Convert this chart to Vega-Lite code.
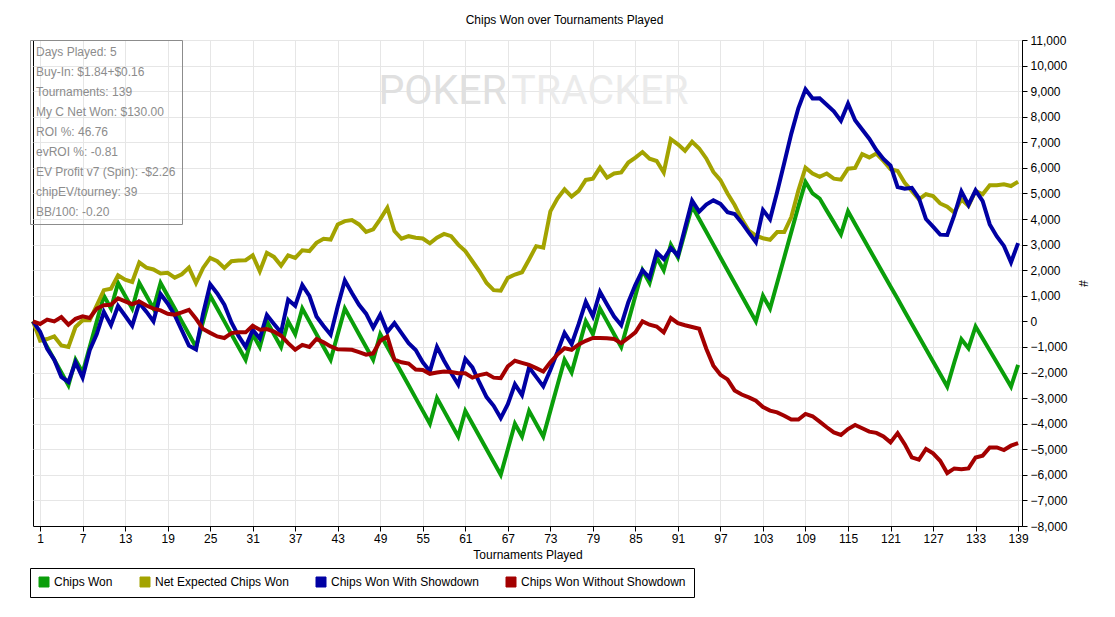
{
  "$schema": "https://vega.github.io/schema/vega-lite/v6.json",
  "width": 989,
  "height": 486,
  "autosize": {"type": "none"},
  "padding": {"left": 33, "top": 40, "right": 93, "bottom": 91},
  "background": "white",
  "title": {"text": "Chips Won over Tournaments Played", "fontSize": 12, "fontWeight": "normal", "font": "Liberation Sans", "color": "black", "offset": 7, "dx": 37},
  "config": {
    "font": "Liberation Sans",
    "view": {"stroke": "black", "strokeWidth": 1},
    "axis": {
      "labelFont": "Liberation Sans", "labelFontSize": 12, "labelColor": "black", "labelOverlap": false,
      "titleFont": "Liberation Sans", "titleFontSize": 12, "titleFontWeight": "normal", "titleColor": "black",
      "gridColor": "#e6e6e6", "domainColor": "black", "tickColor": "black", "tickSize": 5
    }
  },
  "datasets": {
    "chips": [
      {"t":0,"cw":0,"ev":0,"sd":0,"nsd":0},
      {"t":1,"cw":-500,"ev":-750,"sd":-400,"nsd":-100},
      {"t":2,"cw":-1000,"ev":-690,"sd":-1070,"nsd":70},
      {"t":3,"cw":-1500,"ev":-590,"sd":-1500,"nsd":0},
      {"t":4,"cw":-2000,"ev":-940,"sd":-2170,"nsd":170},
      {"t":5,"cw":-2500,"ev":-1000,"sd":-2370,"nsd":-130},
      {"t":6,"cw":-1500,"ev":-220,"sd":-1600,"nsd":100},
      {"t":7,"cw":-2000,"ev":40,"sd":-2200,"nsd":200},
      {"t":8,"cw":-1000,"ev":40,"sd":-1130,"nsd":130},
      {"t":9,"cw":0,"ev":630,"sd":-500,"nsd":500},
      {"t":10,"cw":1000,"ev":1220,"sd":370,"nsd":630},
      {"t":11,"cw":500,"ev":1280,"sd":-150,"nsd":650},
      {"t":12,"cw":1500,"ev":1800,"sd":600,"nsd":900},
      {"t":13,"cw":1000,"ev":1630,"sd":220,"nsd":780},
      {"t":14,"cw":500,"ev":1540,"sd":-170,"nsd":670},
      {"t":15,"cw":1500,"ev":2300,"sd":720,"nsd":780},
      {"t":16,"cw":1000,"ev":2100,"sd":380,"nsd":620},
      {"t":17,"cw":500,"ev":2030,"sd":0,"nsd":500},
      {"t":18,"cw":1500,"ev":1870,"sd":1070,"nsd":430},
      {"t":19,"cw":1000,"ev":1900,"sd":700,"nsd":300},
      {"t":20,"cw":500,"ev":1710,"sd":240,"nsd":260},
      {"t":21,"cw":0,"ev":1840,"sd":-350,"nsd":350},
      {"t":22,"cw":-500,"ev":2100,"sd":-950,"nsd":450},
      {"t":23,"cw":-1000,"ev":1500,"sd":-1100,"nsd":100},
      {"t":24,"cw":0,"ev":2090,"sd":300,"nsd":-300},
      {"t":25,"cw":1000,"ev":2480,"sd":1450,"nsd":-450},
      {"t":26,"cw":500,"ev":2350,"sd":1090,"nsd":-590},
      {"t":27,"cw":0,"ev":2090,"sd":650,"nsd":-650},
      {"t":28,"cw":-500,"ev":2350,"sd":-40,"nsd":-460},
      {"t":29,"cw":-1000,"ev":2380,"sd":-570,"nsd":-430},
      {"t":30,"cw":-1500,"ev":2390,"sd":-1000,"nsd":-430},
      {"t":31,"cw":-500,"ev":2580,"sd":-330,"nsd":-170},
      {"t":32,"cw":-1000,"ev":1960,"sd":-670,"nsd":-330},
      {"t":33,"cw":0,"ev":2680,"sd":250,"nsd":-300},
      {"t":34,"cw":-500,"ev":2520,"sd":-100,"nsd":-400},
      {"t":35,"cw":-1000,"ev":2180,"sd":-440,"nsd":-560},
      {"t":36,"cw":0,"ev":2580,"sd":850,"nsd":-850},
      {"t":37,"cw":-500,"ev":2480,"sd":610,"nsd":-1110},
      {"t":38,"cw":500,"ev":2780,"sd":1420,"nsd":-920},
      {"t":39,"cw":0,"ev":2750,"sd":1000,"nsd":-1000},
      {"t":40,"cw":-500,"ev":3070,"sd":190,"nsd":-690},
      {"t":41,"cw":-1000,"ev":3230,"sd":-180,"nsd":-820},
      {"t":42,"cw":-1500,"ev":3200,"sd":-520,"nsd":-980},
      {"t":43,"cw":-500,"ev":3790,"sd":590,"nsd":-1090},
      {"t":44,"cw":500,"ev":3920,"sd":1600,"nsd":-1100},
      {"t":45,"cw":0,"ev":3960,"sd":1110,"nsd":-1110},
      {"t":46,"cw":-500,"ev":3790,"sd":650,"nsd":-1200},
      {"t":47,"cw":-1000,"ev":3500,"sd":300,"nsd":-1300},
      {"t":48,"cw":-1500,"ev":3600,"sd":-250,"nsd":-1250},
      {"t":49,"cw":-500,"ev":4000,"sd":260,"nsd":-760},
      {"t":50,"cw":-1000,"ev":4440,"sd":-410,"nsd":-590},
      {"t":51,"cw":-1500,"ev":3530,"sd":-70,"nsd":-1500},
      {"t":52,"cw":-2000,"ev":3230,"sd":-460,"nsd":-1600},
      {"t":53,"cw":-2500,"ev":3330,"sd":-850,"nsd":-1650},
      {"t":54,"cw":-3000,"ev":3270,"sd":-1120,"nsd":-1880},
      {"t":55,"cw":-3500,"ev":3240,"sd":-1600,"nsd":-1900},
      {"t":56,"cw":-4000,"ev":3050,"sd":-1950,"nsd":-2050},
      {"t":57,"cw":-3000,"ev":3270,"sd":-1000,"nsd":-2000},
      {"t":58,"cw":-3500,"ev":3420,"sd":-1540,"nsd":-1960},
      {"t":59,"cw":-4000,"ev":3330,"sd":-2020,"nsd":-1980},
      {"t":60,"cw":-4500,"ev":3000,"sd":-2470,"nsd":-2030},
      {"t":61,"cw":-3500,"ev":2750,"sd":-1470,"nsd":-2030},
      {"t":62,"cw":-4000,"ev":2350,"sd":-1800,"nsd":-2200},
      {"t":63,"cw":-4500,"ev":1960,"sd":-2400,"nsd":-2100},
      {"t":64,"cw":-5000,"ev":1500,"sd":-2960,"nsd":-2040},
      {"t":65,"cw":-5500,"ev":1220,"sd":-3300,"nsd":-2200},
      {"t":66,"cw":-6000,"ev":1200,"sd":-3780,"nsd":-2220},
      {"t":67,"cw":-5000,"ev":1700,"sd":-3240,"nsd":-1760},
      {"t":68,"cw":-4000,"ev":1830,"sd":-2460,"nsd":-1540},
      {"t":69,"cw":-4500,"ev":1920,"sd":-2880,"nsd":-1620},
      {"t":70,"cw":-3500,"ev":2420,"sd":-1800,"nsd":-1700},
      {"t":71,"cw":-4000,"ev":2940,"sd":-2170,"nsd":-1830},
      {"t":72,"cw":-4500,"ev":2880,"sd":-2540,"nsd":-1960},
      {"t":73,"cw":-3500,"ev":4300,"sd":-1900,"nsd":-1600},
      {"t":74,"cw":-2500,"ev":4800,"sd":-1200,"nsd":-1300},
      {"t":75,"cw":-1500,"ev":5160,"sd":-450,"nsd":-1050},
      {"t":76,"cw":-2000,"ev":4880,"sd":-890,"nsd":-1110},
      {"t":77,"cw":-1000,"ev":5100,"sd":-100,"nsd":-900},
      {"t":78,"cw":0,"ev":5530,"sd":760,"nsd":-760},
      {"t":79,"cw":-500,"ev":5580,"sd":200,"nsd":-650},
      {"t":80,"cw":500,"ev":6010,"sd":1150,"nsd":-650},
      {"t":81,"cw":0,"ev":5620,"sd":660,"nsd":-660},
      {"t":82,"cw":-500,"ev":5780,"sd":190,"nsd":-690},
      {"t":83,"cw":-1000,"ev":5820,"sd":-150,"nsd":-850},
      {"t":84,"cw":0,"ev":6210,"sd":750,"nsd":-650},
      {"t":85,"cw":1000,"ev":6400,"sd":1430,"nsd":-430},
      {"t":86,"cw":2000,"ev":6620,"sd":2000,"nsd":0},
      {"t":87,"cw":1500,"ev":6360,"sd":1700,"nsd":-130},
      {"t":88,"cw":2500,"ev":6270,"sd":2700,"nsd":-200},
      {"t":89,"cw":2000,"ev":5820,"sd":2430,"nsd":-430},
      {"t":90,"cw":3000,"ev":7120,"sd":2870,"nsd":130},
      {"t":91,"cw":2500,"ev":6920,"sd":2570,"nsd":-70},
      {"t":92,"cw":3500,"ev":6670,"sd":3650,"nsd":-150},
      {"t":93,"cw":4500,"ev":7020,"sd":4720,"nsd":-220},
      {"t":94,"cw":4000,"ev":6760,"sd":4290,"nsd":-290},
      {"t":95,"cw":3500,"ev":6370,"sd":4570,"nsd":-1070},
      {"t":96,"cw":3000,"ev":5840,"sd":4730,"nsd":-1730},
      {"t":97,"cw":2500,"ev":5520,"sd":4590,"nsd":-2090},
      {"t":98,"cw":2000,"ev":5000,"sd":4270,"nsd":-2270},
      {"t":99,"cw":1500,"ev":4550,"sd":4200,"nsd":-2700},
      {"t":100,"cw":1000,"ev":4000,"sd":3860,"nsd":-2860},
      {"t":101,"cw":500,"ev":3550,"sd":3470,"nsd":-2970},
      {"t":102,"cw":0,"ev":3350,"sd":3100,"nsd":-3100},
      {"t":103,"cw":1000,"ev":3250,"sd":4350,"nsd":-3350},
      {"t":104,"cw":500,"ev":3190,"sd":3990,"nsd":-3490},
      {"t":105,"cw":1500,"ev":3490,"sd":5060,"nsd":-3560},
      {"t":106,"cw":2500,"ev":3490,"sd":6190,"nsd":-3690},
      {"t":107,"cw":3500,"ev":4080,"sd":7340,"nsd":-3840},
      {"t":108,"cw":4500,"ev":5120,"sd":8340,"nsd":-3840},
      {"t":109,"cw":5450,"ev":6010,"sd":9070,"nsd":-3620},
      {"t":110,"cw":5000,"ev":5780,"sd":8710,"nsd":-3710},
      {"t":111,"cw":4800,"ev":5650,"sd":8720,"nsd":-3920},
      {"t":112,"cw":4330,"ev":5780,"sd":8470,"nsd":-4140},
      {"t":113,"cw":3870,"ev":5580,"sd":8210,"nsd":-4340},
      {"t":114,"cw":3400,"ev":5540,"sd":7840,"nsd":-4440},
      {"t":115,"cw":4300,"ev":5970,"sd":8510,"nsd":-4210},
      {"t":116,"cw":3810,"ev":6000,"sd":7860,"nsd":-4050},
      {"t":117,"cw":3320,"ev":6540,"sd":7500,"nsd":-4180},
      {"t":118,"cw":2830,"ev":6410,"sd":7140,"nsd":-4310},
      {"t":119,"cw":2340,"ev":6560,"sd":6700,"nsd":-4360},
      {"t":120,"cw":1850,"ev":6270,"sd":6350,"nsd":-4500},
      {"t":121,"cw":1360,"ev":5950,"sd":6090,"nsd":-4730},
      {"t":122,"cw":880,"ev":5880,"sd":5250,"nsd":-4370},
      {"t":123,"cw":390,"ev":5420,"sd":5190,"nsd":-4800},
      {"t":124,"cw":-100,"ev":5100,"sd":5220,"nsd":-5320},
      {"t":125,"cw":-590,"ev":4770,"sd":4820,"nsd":-5410},
      {"t":126,"cw":-1080,"ev":4970,"sd":4000,"nsd":-4990},
      {"t":127,"cw":-1570,"ev":4900,"sd":3700,"nsd":-5160},
      {"t":128,"cw":-2060,"ev":4610,"sd":3390,"nsd":-5450},
      {"t":129,"cw":-2550,"ev":4480,"sd":3380,"nsd":-5930},
      {"t":130,"cw":-1600,"ev":4250,"sd":4150,"nsd":-5750},
      {"t":131,"cw":-700,"ev":4770,"sd":5080,"nsd":-5780},
      {"t":132,"cw":-1050,"ev":4510,"sd":4550,"nsd":-5750},
      {"t":133,"cw":-200,"ev":5100,"sd":5120,"nsd":-5320},
      {"t":134,"cw":-670,"ev":4970,"sd":4700,"nsd":-5250},
      {"t":135,"cw":-1140,"ev":5320,"sd":3790,"nsd":-4930},
      {"t":136,"cw":-1610,"ev":5320,"sd":3320,"nsd":-4930},
      {"t":137,"cw":-2080,"ev":5360,"sd":2950,"nsd":-5030},
      {"t":138,"cw":-2550,"ev":5290,"sd":2310,"nsd":-4860},
      {"t":139,"cw":-1700,"ev":5460,"sd":3060,"nsd":-4760}
    ],
    "info": [
      {"info": "Days Played: 5"},
      {"info": "Buy-In: $1.84+$0.16"},
      {"info": "Tournaments: 139"},
      {"info": "My C Net Won: $130.00"},
      {"info": "ROI %: 46.76"},
      {"info": "evROI %: -0.81"},
      {"info": "EV Profit v7 (Spin): -$2.26"},
      {"info": "chipEV/tourney: 39"},
      {"info": "BB/100: -0.20"}
    ],
    "brand": [
      {"word": "POKER", "pos": 57.8, "level": 8500},
      {"word": "TRACKER", "pos": 80.0, "level": 8500}
    ]
  },
  "layer": [
    {
      "data": {"name": "brand"},
      "mark": {"type": "text", "font": "Roboto", "fontSize": 41, "baseline": "alphabetic", "align": "center"},
      "encoding": {
        "x": {
          "field": "pos", "type": "quantitative",
          "scale": {"domain": [0, 139.55], "nice": false, "zero": false},
          "axis": {"title": "Tournaments Played", "values": [1, 7, 13, 19, 25, 31, 37, 43, 49, 55, 61, 67, 73, 79, 85, 91, 97, 103, 109, 115, 121, 127, 133, 139], "grid": true, "labelPadding": 2, "titlePadding": 5, "labelOverlap": false}
        },
        "y": {
          "field": "level", "type": "quantitative",
          "scale": {"domain": [-8000, 11000], "nice": false, "zero": false},
          "axis": {"orient": "right", "title": "#", "format": ",.0f", "values": [-8000, -7000, -6000, -5000, -4000, -3000, -2000, -1000, 0, 1000, 2000, 3000, 4000, 5000, 6000, 7000, 8000, 9000, 10000, 11000], "grid": true, "labelPadding": 3, "titlePadding": 8, "labelOverlap": false}
        },
        "text": {"field": "word", "type": "nominal"},
        "color": {"condition": {"test": "datum.word == 'POKER'", "value": "#e0e0e0"}, "value": "#ebebeb"},
        "fontWeight": {"condition": {"test": "datum.word == 'POKER'", "value": "bold"}, "value": 300}
      }
    },
    {
      "mark": {"type": "rule", "color": "black", "strokeWidth": 1},
      "encoding": {
        "y": {
          "datum": 0, "type": "quantitative",
          "scale": {"domain": [-8000, 11000], "nice": false, "zero": false},
          "axis": {"orient": "right", "title": "#", "format": ",.0f", "values": [-8000, -7000, -6000, -5000, -4000, -3000, -2000, -1000, 0, 1000, 2000, 3000, 4000, 5000, 6000, 7000, 8000, 9000, 10000, 11000], "grid": true, "labelPadding": 3, "titlePadding": 8, "labelOverlap": false}
        }
      }
    },
    {
      "data": {"name": "chips"},
      "transform": [
        {"fold": ["cw", "ev", "sd", "nsd"], "as": ["series", "value"]}
      ],
      "mark": {"type": "line", "strokeWidth": 4},
      "encoding": {
        "x": {
          "field": "t", "type": "quantitative",
          "scale": {"domain": [0, 139.55], "nice": false, "zero": false},
          "axis": {"title": "Tournaments Played", "values": [1, 7, 13, 19, 25, 31, 37, 43, 49, 55, 61, 67, 73, 79, 85, 91, 97, 103, 109, 115, 121, 127, 133, 139], "grid": true, "labelPadding": 2, "titlePadding": 5, "labelOverlap": false}
        },
        "y": {
          "field": "value", "type": "quantitative",
          "scale": {"domain": [-8000, 11000], "nice": false, "zero": false},
          "axis": {"orient": "right", "title": "#", "format": ",.0f", "values": [-8000, -7000, -6000, -5000, -4000, -3000, -2000, -1000, 0, 1000, 2000, 3000, 4000, 5000, 6000, 7000, 8000, 9000, 10000, 11000], "grid": true, "labelPadding": 3, "titlePadding": 8, "labelOverlap": false}
        },
        "color": {
          "field": "series", "type": "nominal",
          "scale": {"domain": ["cw", "ev", "sd", "nsd"], "range": ["#0a9e0a", "#a3a300", "#0000a3", "#a30000"]},
          "legend": {
            "orient": "none", "legendX": -3, "legendY": 528,
            "direction": "horizontal", "title": null,
            "symbolType": "square", "symbolSize": 100, "symbolStrokeWidth": 1,
            "labelFontSize": 12, "labelFont": "Liberation Sans", "labelColor": "black", "labelLimit": 300,
            "columnPadding": 25, "padding": 8, "strokeColor": "black", "labelOffset": 4,
            "labelExpr": "datum.label == 'cw' ? 'Chips Won' : datum.label == 'ev' ? 'Net Expected Chips Won' : datum.label == 'sd' ? 'Chips Won With Showdown' : 'Chips Won Without Showdown'",
            "encode": {"symbols": {"update": {"fill": {"scale": "color", "field": "value"}, "stroke": {"value": "black"}, "strokeWidth": {"value": 1}}}}
          }
        }
      }
    },
    {
      "data": {"name": "info"},
      "mark": {"type": "point", "opacity": 0},
      "encoding": {
        "shape": {
          "field": "info", "type": "nominal",
          "scale": {"domain": ["Days Played: 5", "Buy-In: $1.84+$0.16", "Tournaments: 139", "My C Net Won: $130.00", "ROI %: 46.76", "evROI %: -0.81", "EV Profit v7 (Spin): -$2.26", "chipEV/tourney: 39", "BB/100: -0.20"]},
          "legend": {
            "orient": "none", "legendX": -3, "legendY": 0, "title": null,
            "symbolSize": 0, "symbolOpacity": 0, "labelOffset": -12,
            "labelFontSize": 12, "labelFont": "Liberation Sans", "labelColor": "#8c8c8c",
            "rowPadding": 8, "padding": 6, "strokeColor": "#8c8c8c", "labelLimit": 300
          }
        }
      }
    }
  ]
}
